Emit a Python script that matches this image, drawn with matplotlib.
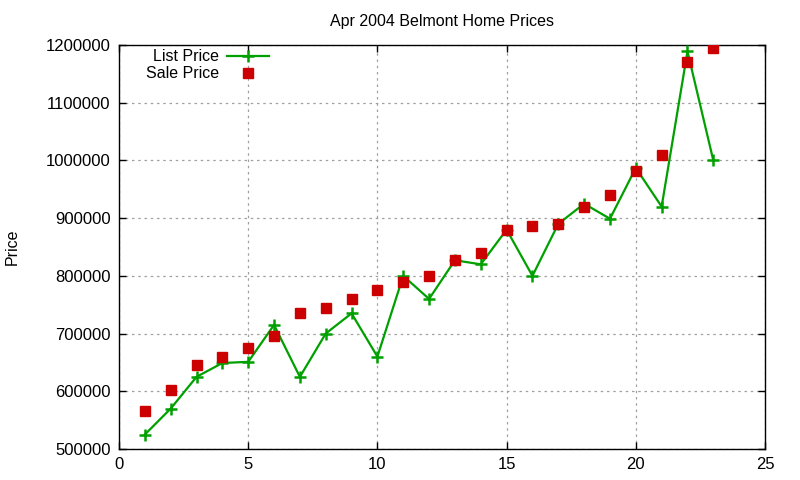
import numpy as np
import matplotlib
matplotlib.use('Agg')
import matplotlib.pyplot as plt

plt.rcParams['font.family'] = ['Liberation Sans', 'DejaVu Sans']

# listing index
house = list(range(1, 24))

# asking price per house
list_price = [525000, 570000, 625000, 649000, 651000, 715000, 625000, 700000,
              735000, 660000, 800000, 760000, 827000, 820000, 880000, 800000,
              890000, 925000, 899000, 987000, 920000, 1189000, 1000000]

# final sale price per house
sale_price = [566000, 603000, 645000, 660000, 675000, 695000, 735000, 745000,
              760000, 776000, 790000, 800000, 827000, 840000, 880000, 886000,
              890000, 920000, 940000, 981000, 1010000, 1171000, 1195000]

x_ticks = [0, 5, 10, 15, 20, 25]
y_ticks = [500000, 600000, 700000, 800000, 900000, 1000000, 1100000, 1200000]

fig = plt.figure(figsize=(8, 4.8), dpi=100)
ax = fig.add_axes([119 / 800, 1 - 449 / 480, (765 - 119) / 800, (449 - 45) / 480])

ax.plot(house, list_price, color='#00a000', linewidth=1.6, marker='+',
        markersize=9, markeredgewidth=1.8, label='List Price', zorder=3)
ax.plot(house, sale_price, linestyle='none', color='#cc0000', marker='s',
        markersize=6.5, label='Sale Price', zorder=4)

ax.set_xlim(0, 25)
ax.set_ylim(500000, 1200000)
ax.set_xticks(x_ticks)
ax.set_yticks(y_ticks)
ax.ticklabel_format(style='plain', useOffset=False)
ax.grid(True, color='#a0a0a0', linestyle=(0, (2, 3)), linewidth=0.9)
ax.tick_params(direction='in', top=True, right=True, length=5, width=1,
               labelsize=12, pad=6)
for s in ax.spines.values():
    s.set_linewidth(1)

ax.set_title('Apr 2004 Belmont Home Prices', fontsize=11.5, pad=14)
fig.text(12 / 800, 1 - 247 / 480, 'Price', rotation=90, fontsize=11.5,
         ha='center', va='center')

ax.legend(loc='upper left', bbox_to_anchor=(0.025, 1.017), frameon=False,
          markerfirst=False, fontsize=11.5, handlelength=2.6,
          labelspacing=0.12, handletextpad=0.5, borderpad=0.2)

fig.savefig('out.png', dpi=100)
